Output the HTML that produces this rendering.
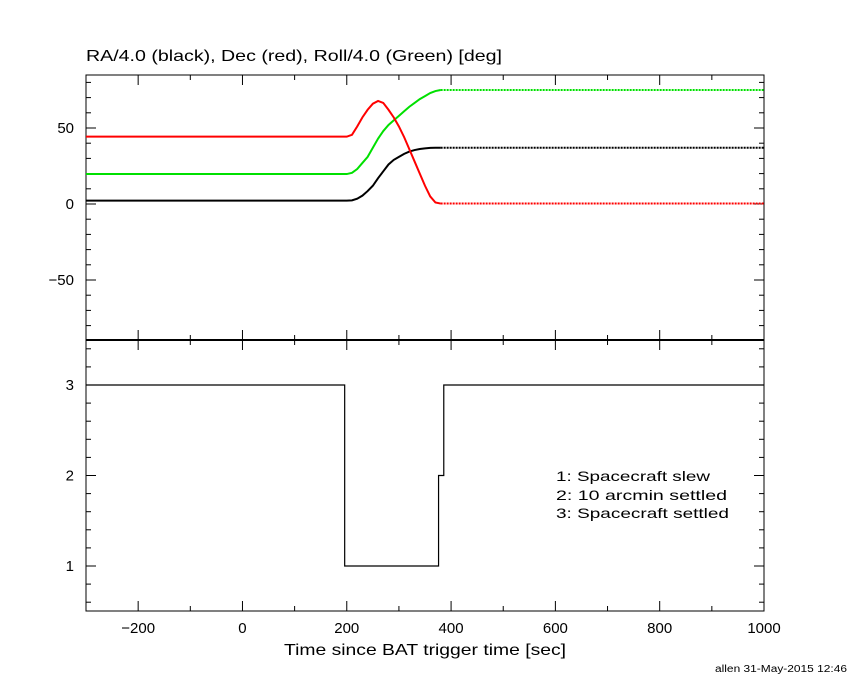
<!DOCTYPE html>
<html><head><meta charset="utf-8"><style>
body{margin:0;background:#fff;}
svg text{font-family:"Liberation Sans",sans-serif;fill:#000;}
</style></head><body>
<svg id="c" width="850" height="680" xmlns="http://www.w3.org/2000/svg">
<text x="86" y="61" font-size="16" textLength="416" lengthAdjust="spacingAndGlyphs">RA/4.0 (black), Dec (red), Roll/4.0 (Green) [deg]</text>
<text x="284" y="655" font-size="16" textLength="282" lengthAdjust="spacingAndGlyphs">Time since BAT trigger time [sec]</text>
<text x="715" y="672" font-size="10" textLength="132" lengthAdjust="spacingAndGlyphs">allen 31-May-2015 12:46</text>
<g font-size="14">
<text x="556" y="481" textLength="154" lengthAdjust="spacingAndGlyphs">1: Spacecraft slew</text>
<text x="556" y="500" textLength="171" lengthAdjust="spacingAndGlyphs">2: 10 arcmin settled</text>
<text x="556" y="518" textLength="173" lengthAdjust="spacingAndGlyphs">3: Spacecraft settled</text>
</g>
<g id="g"></g>
</svg>
<script>
const times=[200,210,220,230,240,250,260,270,280,290,300,310,320,330,340,350,360,370,380];
const raVals=[2.2,2.4,3.5,5.5,8.5,12,17,21.5,26,29,31,33,34.5,35.5,36.2,36.6,36.9,37,37];
const decVals=[44.3,45.5,51,57,62,66,67.8,66.5,62,57,51,44,36,28,20,12,5,1,0.3];
const rollVals=[19.7,20.5,23,27,31,37,43,48,52,55,58,61,64,66.5,69,71,73,74.3,75];
const stepTimes=[-300,196,376,386,1000];
const stepVals=[3,1,2,3,3];
const xTicks=[-200,0,200,400,600,800,1000];
const yTopTicks=[-50,0,50];
const yBotTicks=[1,2,3];

const L=86,R=764,T1=75,B1=340,T2=340,B2=611;
const X=t=>L+(t+300)*(R-L)/1300;
const Y1=v=>204-v*1.52;
const Y2=v=>385-(v-3)*90.5;
const NS='http://www.w3.org/2000/svg';
const g=document.getElementById('g');
function el(tag,attrs){const e=document.createElementNS(NS,tag);for(const k in attrs)e.setAttribute(k,attrs[k]);g.appendChild(e);return e;}

let f=el('rect',{x:L,y:T1,width:R-L,height:B2-T1,fill:'none',stroke:'#000','stroke-width':1});


let mid=el('line',{x1:L,x2:R,y1:340,y2:340,stroke:'#000','stroke-width':2});



for(let t=-300;t<=1000;t+=100){
  const x=X(t),len=(t%200===0)?10:5;
  for(const [y0,d] of [[T1,1],[B1,-1],[T2,1],[B2,-1]]){
    let tk=el('line',{x1:x,x2:x,y1:y0,y2:y0+d*len,stroke:'#000'});
    
    
  }
}
xTicks.forEach(t=>{
  let tx=el('text',{x:X(t),y:633,'font-size':15,'text-anchor':'middle'});
  tx.textContent=(t<0?'\u2212'+(-t):t);
  
  
});
for(let v=-80;v<=80;v+=10){
  const y=Y1(v),len=(v%50===0)?10:5;
  for(const [x0,d] of [[L,1],[R,-1]]){
    let tk=el('line',{x1:x0,x2:x0+d*len,y1:y,y2:y,stroke:'#000'});
    
    
  }
}
yTopTicks.forEach(v=>{
  let tx=el('text',{x:74,y:Y1(v)+5,'font-size':15,'text-anchor':'end'});
  tx.textContent=(v<0?'\u2212'+(-v):v);
  
  
});
for(let v=0.6;v<=3.45;v+=0.2){
  const vv=Math.round(v*10)/10,y=Y2(vv),len=(Math.abs(vv-Math.round(vv))<0.01)?10:5;
  for(const [x0,d] of [[L,1],[R,-1]]){
    let tk=el('line',{x1:x0,x2:x0+d*len,y1:y,y2:y,stroke:'#000'});
    
    
  }
}
yBotTicks.forEach(v=>{
  let tx=el('text',{x:74,y:Y2(v)+5,'font-size':15,'text-anchor':'end'});
  tx.textContent=v;
  
  
});

function series(vals,color,name){
  let pts=[[X(-300),Y1(vals[0])]].concat(times.map((t,i)=>[X(t),Y1(vals[i])]));
  let p=el('polyline',{points:pts.map(p=>p.join(',')).join(' '),fill:'none',stroke:color,'stroke-width':2});
  
  
  const last=vals[vals.length-1],tl=times[times.length-1];
  let d=el('line',{x1:X(tl),x2:X(1000),y1:Y1(last),y2:Y1(last),stroke:color,'stroke-width':2,'stroke-dasharray':'2,1'});
  
  
}
series(raVals,'#000','ra');
series(rollVals,'#00e000','roll');
series(decVals,'#f00','dec');

let sp=[];
for(let i=0;i<stepTimes.length;i++){
  if(i>0)sp.push([X(stepTimes[i]),Y2(stepVals[i-1])]);
  sp.push([X(stepTimes[i]),Y2(stepVals[i])]);
}
let st=el('polyline',{points:sp.map(p=>p.join(',')).join(' '),fill:'none',stroke:'#000','stroke-width':1.2});


</script>
</body></html>
